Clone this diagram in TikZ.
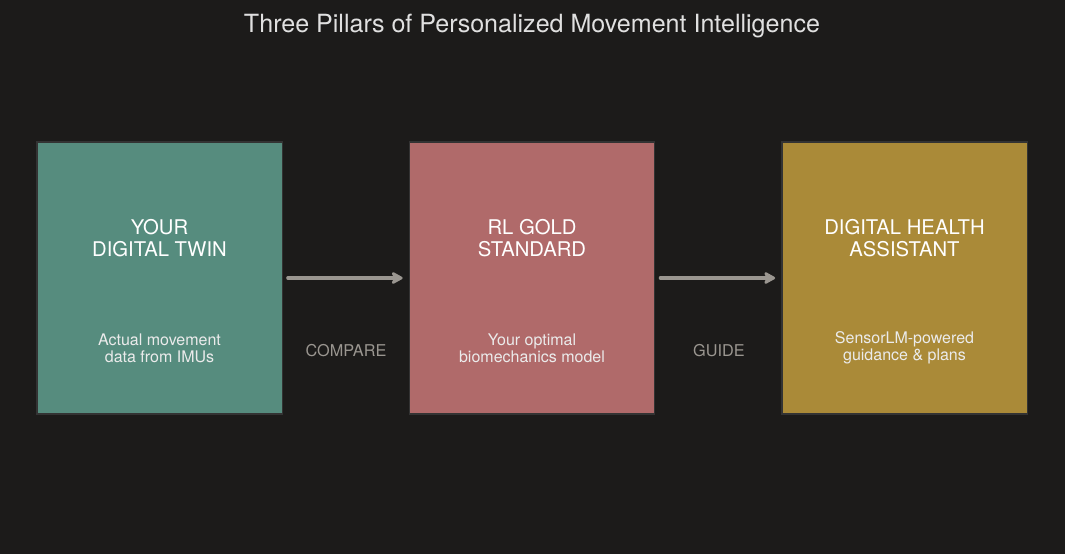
\documentclass[tikz,border=0pt]{standalone}
\usepackage{fontspec}
\setmainfont{TeX Gyre Heros}
\usepackage{tikz}
\usetikzlibrary{calc,arrows.meta}
\definecolor{bgdark}{HTML}{1C1B1A}
\definecolor{twinteal}{HTML}{568C7E}
\definecolor{goldrose}{HTML}{B06A6A}
\definecolor{assistgold}{HTML}{AA8A38}
\definecolor{boxedge}{HTML}{333333}
\definecolor{flowgray}{HTML}{9A9690}
\def\pillarnode{\node[draw=boxedge, line width=1pt, minimum width=184pt, minimum height=204pt, inner sep=0pt]}
\def\headnode{\node[text=white, font=\fontsize{15.2}{16.5}\selectfont, align=center]}
\def\subnode{\node[text=white!92!black, font=\fontsize{12}{12.8}\selectfont, align=center]}
\def\flownode{\node[text=flowgray, font=\fontsize{12.2}{13}\selectfont]}
\def\drawflow{\draw[color=flowgray, line width=2.4pt, line cap=round, -{Stealth[length=10pt,width=11pt,inset=2.5pt,round]}]}

\begin{document}
\begin{tikzpicture}[x=0.75pt, y=-0.75pt]
\fill[bgdark] (0,0) rectangle (1065,554);
\useasboundingbox (0,0) rectangle (1065,554);
\node[text=white!88!black, font=\fontsize{18.8}{20}\selectfont] (title) at (532,26) {Three Pillars of Personalized Movement Intelligence};
% pillars
\pillarnode[fill=twinteal] (twin) at (159.5,278) {};
\pillarnode[fill=goldrose] (gold) at (532,278) {};
\pillarnode[fill=assistgold] (assist) at (904.5,278) {};
\headnode (twinhead) at (159.5,238) {YOUR\\DIGITAL TWIN};
\headnode (goldhead) at (532,238) {RL GOLD\\STANDARD};
\headnode (assisthead) at (904.5,238) {DIGITAL HEALTH\\ASSISTANT};
\subnode (twinsub) at (159.5,348) {Actual movement\\data from IMUs};
\subnode (goldsub) at (532,348) {Your optimal\\biomechanics model};
\subnode (assistsub) at (904.5,348) {SensorLM-powered\\guidance \& plans};
% flow
\drawflow ($(twin.east)+(5,0)$) -- ($(gold.west)+(-6,0)$);
\drawflow ($(gold.east)+(5,0)$) -- ($(assist.west)+(-6,0)$);
\flownode (compare) at (346,351) {COMPARE};
\flownode (guide) at (719,351) {GUIDE};
\end{tikzpicture}
\end{document}
